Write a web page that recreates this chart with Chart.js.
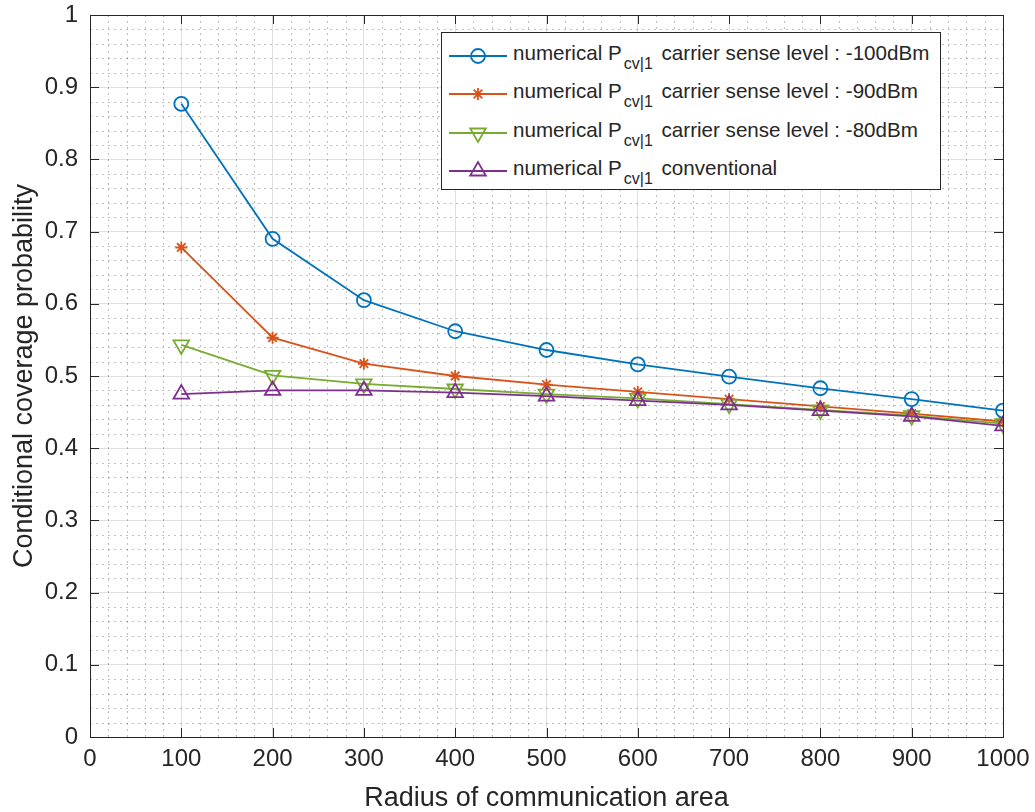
<!DOCTYPE html>
<html>
<head>
<meta charset="utf-8">
<script src="https://cdn.jsdelivr.net/npm/chart.js@4.4.0/dist/chart.umd.min.js"></script>
<style>
    html, body { margin: 0; padding: 0; background: #fff; }
    #wrap { position: relative; width: 1035px; height: 812px; }
    #legend {
        position: absolute; left: 441px; top: 32px; width: 500px; height: 158px;
        border: 1px solid #262626; background: #fff; box-sizing: border-box;
        font-family: "Liberation Sans", Arial, Helvetica, sans-serif; color: #262626;
    }
    .row { position: absolute; left: 0; height: 38px; width: 100%; }
    .row svg { position: absolute; left: 6px; top: 0; }
    .row span { position: absolute; left: 71px; top: 7px; font-size: 20.6px; white-space: nowrap; }
    .row sub { font-size: 16px; vertical-align: -9px; line-height: 0; margin-left: 2px; margin-right: 3px; }
</style>
</head>
<body>
<div id="wrap">
    <canvas id="chart" width="1035" height="812"></canvas>
    <div id="legend"></div>
</div>
<script>
const radius = [100, 200, 300, 400, 500, 600, 700, 800, 900, 1000];
const cs100 = [0.877, 0.690, 0.605, 0.562, 0.536, 0.516, 0.499, 0.483, 0.468, 0.452];
const cs90 = [0.678, 0.553, 0.517, 0.500, 0.488, 0.478, 0.468, 0.458, 0.448, 0.437];
const cs80 = [0.543, 0.501, 0.489, 0.482, 0.475, 0.469, 0.461, 0.453, 0.445, 0.434];
const conventional = [0.475, 0.480, 0.480, 0.477, 0.472, 0.466, 0.460, 0.452, 0.444, 0.431];
const seriesNames = [
    'carrier sense level : -100dBm',
    'carrier sense level : -90dBm',
    'carrier sense level : -80dBm',
    'conventional'
];
const colors = ['#0072BD', '#D95319', '#77AC30', '#7E2F8E'];

const FONT = '"Liberation Sans", Arial, Helvetica, sans-serif';
const TEXT = '#262626';

function pts(vals) {
    return radius.map((r, i) => ({ x: r, y: vals[i] }));
}

// minor dotted grid, inward tick marks and the box round the axes
const matlabAxes = {
    id: 'matlabAxes',
    beforeDatasetsDraw(chart) {
        const ctx = chart.ctx, a = chart.chartArea;
        const xs = chart.scales.x, ys = chart.scales.y;
        ctx.save();
        ctx.strokeStyle = 'rgba(0,0,0,0.25)';
        ctx.lineWidth = 1;
        ctx.setLineDash([2, 4]);
        for (let v = 20; v < 1000; v += 20) {
            if (v % 100 === 0) continue;
            const px = Math.round(xs.getPixelForValue(v)) + 0.5;
            ctx.beginPath(); ctx.moveTo(px, a.top); ctx.lineTo(px, a.bottom); ctx.stroke();
        }
        for (let k = 1; k < 50; k++) {
            if (k % 5 === 0) continue;
            const py = Math.round(ys.getPixelForValue(k * 0.02)) + 0.5;
            ctx.beginPath(); ctx.moveTo(a.left, py); ctx.lineTo(a.right, py); ctx.stroke();
        }
        ctx.restore();
    },
    afterDatasetsDraw(chart) {
        const ctx = chart.ctx, a = chart.chartArea;
        const xs = chart.scales.x, ys = chart.scales.y;
        const len = 9;
        ctx.save();
        ctx.strokeStyle = TEXT;
        ctx.lineWidth = 1;
        ctx.beginPath();
        xs.ticks.forEach(t => {
            const px = Math.round(xs.getPixelForValue(t.value)) + 0.5;
            ctx.moveTo(px, a.bottom); ctx.lineTo(px, a.bottom - len);
            ctx.moveTo(px, a.top); ctx.lineTo(px, a.top + len);
        });
        ys.ticks.forEach(t => {
            const py = Math.round(ys.getPixelForValue(t.value)) + 0.5;
            ctx.moveTo(a.left, py); ctx.lineTo(a.left + len, py);
            ctx.moveTo(a.right, py); ctx.lineTo(a.right - len, py);
        });
        ctx.stroke();
        ctx.strokeRect(Math.round(a.left) + 0.5, Math.round(a.top) + 0.5,
            Math.round(a.right - a.left), Math.round(a.bottom - a.top));
        ctx.restore();
    }
};

const styles = [
    { pointStyle: 'circle', pointRadius: 7, pointRotation: 0 },
    { pointStyle: 'star', pointRadius: 6, pointRotation: 0 },
    { pointStyle: 'triangle', pointRadius: 9, pointRotation: 180 },
    { pointStyle: 'triangle', pointRadius: 9, pointRotation: 0 }
];

const allSeries = [cs100, cs90, cs80, conventional];
const datasets = allSeries.map((vals, i) => ({
    label: 'numerical Pcv|1 ' + seriesNames[i],
    data: pts(vals),
    borderColor: colors[i],
    borderWidth: 1.8,
    pointBorderColor: colors[i],
    pointBackgroundColor: 'rgba(0,0,0,0)',
    pointBorderWidth: 1.8,
    pointStyle: styles[i].pointStyle,
    pointRadius: styles[i].pointRadius,
    pointRotation: styles[i].pointRotation,
    tension: 0,
    order: 3 - i
}));

new Chart(document.getElementById('chart'), {
    type: 'line',
    data: { datasets },
    plugins: [matlabAxes],
    options: {
        responsive: false,
        animation: false,
        layout: { padding: { left: 0, right: 32, top: 15, bottom: 0 } },
        plugins: { legend: { display: false }, tooltip: { enabled: false } },
        scales: {
            x: {
                type: 'linear', min: 0, max: 1000,
                afterFit: s => { s.height = 75; s.paddingLeft = 0; s.paddingRight = 0; },
                border: { display: false },
                grid: { color: '#dfdfdf', lineWidth: 1, drawTicks: false },
                ticks: {
                    stepSize: 100, padding: 8, color: TEXT, font: { family: FONT, size: 24 },
                    callback: v => String(v)
                },
                title: {
                    display: true, text: 'Radius of communication area', color: TEXT,
                    font: { family: FONT, size: 27, lineHeight: 1 }, padding: { top: 0, bottom: 0 }
                }
            },
            y: {
                type: 'linear', min: 0, max: 1,
                afterFit: s => { s.width = 90; s.paddingTop = 0; s.paddingBottom = 0; },
                border: { display: false },
                grid: { color: '#dfdfdf', lineWidth: 1, drawTicks: false },
                ticks: {
                    stepSize: 0.1, padding: 12, color: TEXT, font: { family: FONT, size: 24 },
                    callback: v => String(Math.round(v * 10) / 10)
                },
                title: {
                    display: true, text: 'Conditional coverage probability', color: TEXT,
                    font: { family: FONT, size: 27, lineHeight: 1 }, padding: { top: 11, bottom: 0 }
                }
            }
        }
    }
});

// legend with subscripts
function markerSvg(i) {
    const c = colors[i];
    const cx = 30, cy = 22;
    let m = '';
    if (i === 0) m = `<circle cx="${cx}" cy="${cy}" r="7" fill="none" stroke="${c}" stroke-width="1.8"/>`;
    if (i === 1) m = `<path d="M${cx - 6} ${cy}H${cx + 6}M${cx} ${cy - 6}V${cy + 6}M${cx - 4.3} ${cy - 4.3}L${cx + 4.3} ${cy + 4.3}M${cx - 4.3} ${cy + 4.3}L${cx + 4.3} ${cy - 4.3}" stroke="${c}" stroke-width="1.8"/>`;
    if (i === 2) m = `<path d="M${cx - 7.8} ${cy - 4.5}H${cx + 7.8}L${cx} ${cy + 9}Z" fill="none" stroke="${c}" stroke-width="1.8"/>`;
    if (i === 3) m = `<path d="M${cx - 7.8} ${cy + 4.5}H${cx + 7.8}L${cx} ${cy - 9}Z" fill="none" stroke="${c}" stroke-width="1.8"/>`;
    return `<svg width="60" height="38"><line x1="1" y1="${cy}" x2="59" y2="${cy}" stroke="${c}" stroke-width="1.8"/>${m}</svg>`;
}

const legendDiv = document.getElementById('legend');
seriesNames.forEach((name, i) => {
    legendDiv.innerHTML += `
    <div class="row" style="top:${1 + i * 38.3}px">
        ${markerSvg(i)}
        <span>numerical P<sub>cv|1</sub> ${name}</span>
    </div>`;
});
</script>
</body>
</html>
